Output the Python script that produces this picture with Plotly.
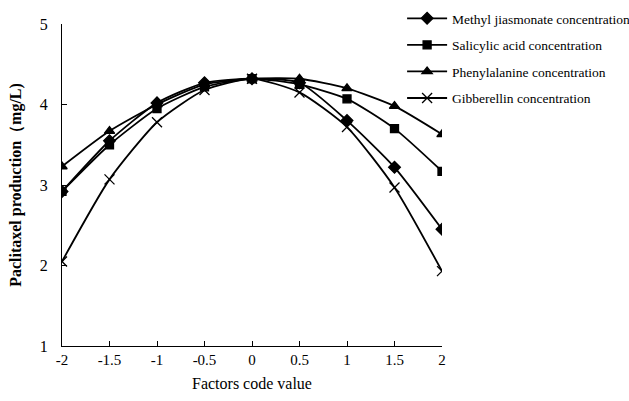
import plotly.graph_objects as go

x_codes = [-2, -1.5, -1, -0.5, 0, 0.5, 1, 1.5, 2]
x_ticks = [-2, -1.5, -1, -0.5, 0, 0.5, 1, 1.5, 2]
x_tick_labels = ["-2", "-1.5", "-1", "-0.5", "0", "0.5", "1", "1.5", "2"]
y_ticks = [1, 2, 3, 4, 5]

methyl = [2.92, 3.55, 4.02, 4.27, 4.32, 4.27, 3.80, 3.22, 2.45]
salicylic = [2.92, 3.50, 3.95, 4.22, 4.32, 4.25, 4.07, 3.70, 3.17]
phenylalanine = [3.23, 3.67, 4.00, 4.25, 4.32, 4.32, 4.20, 3.98, 3.63]
gibberellin = [2.05, 3.07, 3.78, 4.18, 4.32, 4.15, 3.72, 2.97, 1.93]

series = [
    ("Methyl jiasmonate concentration", methyl, "diamond", 9),
    ("Salicylic acid concentration", salicylic, "square", 8),
    ("Phenylalanine concentration", phenylalanine, "triangle-up", 9),
    ("Gibberellin concentration", gibberellin, "x-thin-open", 10),
]

fig = go.Figure()
for i, (name, vals, sym, sz) in enumerate(series):
    fig.add_trace(go.Scatter(
        x=x_codes, y=vals, name=name, mode="lines+markers",
        legendgroup=f"g{i}",
        line=dict(color="black", width=1.8, shape="spline", smoothing=0.6),
        marker=dict(symbol=sym, size=sz, color="black",
                    line=dict(color="black", width=1.3)),
    ))

font_family = "Liberation Serif, DejaVu Serif, serif"
fig.update_layout(
    width=629, height=401,
    margin=dict(l=62, r=187, t=24, b=55, autoexpand=False),
    paper_bgcolor="white", plot_bgcolor="white",
    font=dict(family=font_family, color="black", size=14),
    showlegend=True,
    legend=dict(x=0.895, y=1.065, xanchor="left", yanchor="top",
                font=dict(size=13.5, family=font_family),
                traceorder="grouped", tracegroupgap=6, itemwidth=40,
                bgcolor="rgba(0,0,0,0)"),
    xaxis=dict(range=[-2, 2], tickvals=x_ticks, ticktext=x_tick_labels,
               showgrid=False, zeroline=False, showline=True,
               linecolor="black", linewidth=1, ticks="inside", ticklen=5,
               tickcolor="black", tickfont=dict(size=15),
               title=dict(text="Factors code value", font=dict(size=16), standoff=10)),
    yaxis=dict(range=[1, 5], tickvals=y_ticks,
               showgrid=False, zeroline=False, showline=True,
               linecolor="black", linewidth=1, ticks="inside", ticklen=5,
               tickcolor="black", tickfont=dict(size=16), ticklabelstandoff=10,
               title=dict(text="<b>Paclitaxel production（mg/L)</b>", font=dict(size=16), standoff=14)),
)

fig.write_html("out.html", config={"displayModeBar": False},
               post_script="document.body.style.margin='0';document.body.style.overflow='hidden';")
